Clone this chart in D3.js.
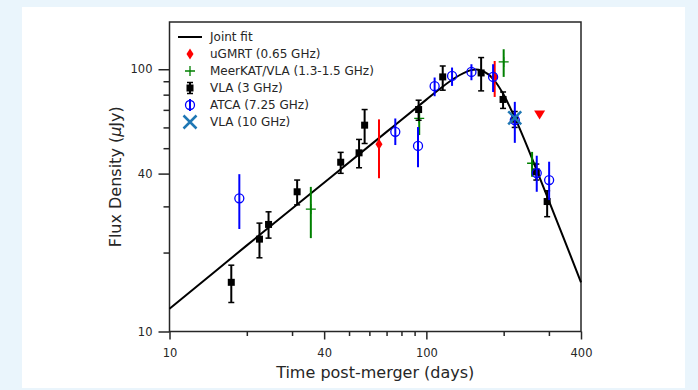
<!DOCTYPE html>
<html>
<head>
  <meta charset="utf-8">
  <title>Light curve</title>
  <style>
    body { margin: 0; background: #eaf5fc; }
    svg { display: block; font-family: "DejaVu Sans", sans-serif; }
  </style>
</head>
<body>
  <div id="plot"></div>

  <script src="https://cdn.jsdelivr.net/npm/d3@7"></script>
  <script>

    // joint fit curve
    let fitT = [10, 20, 42, 70, 100, 113, 130, 148, 160, 175, 186, 200, 222, 250, 270, 295, 340, 400];
    let fitF = [12.2, 21.3, 38.4, 57.7, 76.6, 84.3, 93.0, 99.0, 99.6, 95.4, 89.4, 79.9, 64.8, 49.3, 40.8, 32.8, 23.1, 15.4];

    // uGMRT 0.65 GHz
    let gmrtT = [65.4, 184.5];
    let gmrtF = [51.8, 93.5];
    let gmrtLo = [38.4, 78.4];
    let gmrtHi = [64.4, 107.5];
    // uGMRT upper limit
    let gmrtLimT = [276];
    let gmrtLimF = [67.2];

    // MeerKAT/VLA 1.3-1.5 GHz
    let meerT = [35.5, 93.8, 200, 258];
    let meerF = [29.3, 65.0, 106.6, 43.8];
    let meerLo = [22.7, 56.1, 93.5, 38.9];
    let meerHi = [35.6, 69.8, 119.2, 48.4];

    // VLA 3 GHz
    let vla3T = [17.4, 22.4, 24.3, 31.4, 46.4, 54.7, 57.5, 93.3, 115.8, 163.4, 198.9, 220.8, 268, 295.3];
    let vla3F = [15.4, 22.5, 25.6, 34.1, 44.2, 48.0, 61.2, 70.2, 93.5, 96.8, 76.7, 64.5, 40.6, 31.3];
    let vla3Lo = [12.9, 19.1, 22.7, 30.4, 40.1, 42.1, 52.1, 63.9, 83.2, 82.7, 70.9, 60.0, 37.8, 27.4];
    let vla3Hi = [17.9, 25.9, 28.6, 37.8, 48.2, 54.0, 70.2, 76.2, 102.9, 110.8, 81.9, 69.0, 43.5, 34.4];

    // ATCA 7.25 GHz
    let atcaT = [18.7, 75.7, 92.8, 107.7, 125.9, 149.8, 181.9, 221, 269, 300.6];
    let atcaF = [32.2, 57.7, 51.0, 86.2, 94.3, 97.7, 93.5, 64.0, 40.2, 37.8];
    let atcaLo = [24.6, 51.4, 42.3, 78.9, 86.4, 90.8, 81.9, 52.4, 34.1, 31.7];
    let atcaHi = [39.8, 64.9, 60.2, 93.0, 101.5, 104.5, 104.5, 75.1, 46.8, 44.4];

    // VLA 10 GHz
    let vla10T = [220.8];
    let vla10F = [65.3];

    // axis ticks
    let xMajor = [10, 40, 100, 400];
    let xMinor = [20, 30, 50, 60, 70, 80, 90, 200, 300];
    let yMajor = [10, 40, 100];
    let yMinor = [20, 30, 50, 60, 70, 80, 90];

    let legendLabels = ['Joint fit', 'uGMRT (0.65 GHz)', 'MeerKAT/VLA (1.3-1.5 GHz)', 'VLA (3 GHz)', 'ATCA (7.25 GHz)', 'VLA (10 GHz)'];

    // build row objects
    function rows(t, f, lo, hi) {
      return t.map((d, i) => ({t: d, f: f[i], lo: lo ? lo[i] : null, hi: hi ? hi[i] : null}));
    }
    let fit = rows(fitT, fitF);
    let gmrt = rows(gmrtT, gmrtF, gmrtLo, gmrtHi);
    let gmrtLim = rows(gmrtLimT, gmrtLimF);
    let meer = rows(meerT, meerF, meerLo, meerHi);
    let vla3 = rows(vla3T, vla3F, vla3Lo, vla3Hi);
    let atca = rows(atcaT, atcaF, atcaLo, atcaHi);
    let vla10 = rows(vla10T, vla10F);

    let svgWidth = 698;
    let svgHeight = 390;
    let plotLeft = 169.5, plotRight = 581, plotTop = 22, plotBottom = 331.5;

    let svg = d3.select('#plot')
      .append('svg')
        .attr('width', svgWidth)
        .attr('height', svgHeight);

    // page background + white card
    svg.append('rect')
      .attr('width', svgWidth).attr('height', svgHeight)
      .attr('fill', '#eaf5fc');
    svg.append('rect')
      .attr('x', 22).attr('y', 7)
      .attr('width', 663).attr('height', 381)
      .attr('fill', '#ffffff');

    let x = d3.scaleLog().domain([10, 400]).range([plotLeft, plotRight]);
    let y = d3.scaleLog().domain([10, 151.4]).range([plotBottom, plotTop]);

    let ink = '#262626';

    // axes: major and minor ticks
    function styleAxis(g) {
      g.select('.domain').remove();
      g.selectAll('line').attr('stroke', ink).attr('stroke-width', 1.5);
      g.selectAll('text').attr('fill', ink).style('font-size', '11.5px').style('font-family', '"DejaVu Sans", sans-serif');
    }

    svg.append('g')
      .attr('transform', 'translate(0,' + plotBottom + ')')
      .call(d3.axisBottom(x).tickValues(xMajor).tickSize(8).tickPadding(9).tickFormat(d3.format('d')))
      .call(styleAxis);
    svg.append('g')
      .attr('transform', 'translate(0,' + plotBottom + ')')
      .call(d3.axisBottom(x).tickValues(xMinor).tickSize(4.5).tickFormat(''))
      .call(styleAxis);
    svg.append('g')
      .attr('transform', 'translate(' + plotLeft + ',0)')
      .call(d3.axisLeft(y).tickValues(yMajor).tickSize(11).tickPadding(6).tickFormat(d3.format('d')))
      .call(styleAxis);
    svg.append('g')
      .attr('transform', 'translate(' + plotLeft + ',0)')
      .call(d3.axisLeft(y).tickValues(yMinor).tickSize(6).tickFormat(''))
      .call(styleAxis);

    // frame
    svg.append('rect')
      .attr('x', plotLeft).attr('y', plotTop)
      .attr('width', plotRight - plotLeft).attr('height', plotBottom - plotTop)
      .attr('fill', 'none')
      .attr('stroke', ink)
      .attr('stroke-width', 1.5);

    // axis titles
    svg.append('text')
      .attr('x', (plotLeft + plotRight) / 2)
      .attr('y', 378)
      .attr('text-anchor', 'middle')
      .attr('fill', ink)
      .style('font-size', '16px')
      .text('Time post-merger (days)');

    let yTitle = svg.append('text')
      .attr('transform', 'translate(121,' + (plotTop + plotBottom) / 2 + ') rotate(-90)')
      .attr('text-anchor', 'middle')
      .attr('fill', ink)
      .style('font-size', '16px');
    yTitle.append('tspan').text('Flux Density (');
    yTitle.append('tspan').style('font-style', 'italic').text('μ');
    yTitle.append('tspan').text('Jy)');

    let plot = svg.append('g');

    // joint fit line
    let line = d3.line()
      .x(d => x(d.t))
      .y(d => y(d.f))
      .curve(d3.curveCatmullRom.alpha(0.5));
    plot.append('path')
      .datum(fit)
      .attr('d', line)
      .attr('fill', 'none')
      .attr('stroke', '#000')
      .attr('stroke-width', 2);

    // marker shapes
    let diamond = 'M0,-5.5L3.5,0L0,5.5L-3.5,0Z';
    let plus = 'M-5,0H5M0,-5V5';
    let cross = 'M-6.5,-6.5L6.5,6.5M-6.5,6.5L6.5,-6.5';
    let triDown = 'M-5.5,-4L5.5,-4L0,5Z';

    function errBars(data, color, width) {
      plot.append('g').selectAll('line')
        .data(data)
        .enter()
        .append('line')
          .attr('x1', d => x(d.t)).attr('x2', d => x(d.t))
          .attr('y1', d => y(d.lo)).attr('y2', d => y(d.hi))
          .attr('stroke', color)
          .attr('stroke-width', width);
    }

    // uGMRT
    errBars(gmrt, '#ff0000', 2);
    plot.append('g').selectAll('path')
      .data(gmrt).enter()
      .append('path')
        .attr('d', diamond)
        .attr('transform', d => 'translate(' + x(d.t) + ',' + y(d.f) + ')')
        .attr('fill', '#ff0000');
    plot.append('g').selectAll('path')
      .data(gmrtLim).enter()
      .append('path')
        .attr('d', triDown)
        .attr('transform', d => 'translate(' + x(d.t) + ',' + y(d.f) + ')')
        .attr('fill', '#ff0000');

    // MeerKAT/VLA
    errBars(meer, '#008000', 2);
    plot.append('g').selectAll('path')
      .data(meer).enter()
      .append('path')
        .attr('d', plus)
        .attr('transform', d => 'translate(' + x(d.t) + ',' + y(d.f) + ')')
        .attr('stroke', '#008000')
        .attr('stroke-width', 1.3);

    // VLA 3 GHz with caps
    errBars(vla3, '#000', 2);
    ['lo', 'hi'].forEach(k => {
      plot.append('g').selectAll('line')
        .data(vla3).enter()
        .append('line')
          .attr('x1', d => x(d.t) - 3).attr('x2', d => x(d.t) + 3)
          .attr('y1', d => y(d[k])).attr('y2', d => y(d[k]))
          .attr('stroke', '#000')
          .attr('stroke-width', 1.5);
    });
    plot.append('g').selectAll('rect')
      .data(vla3).enter()
      .append('rect')
        .attr('x', d => x(d.t) - 3.5)
        .attr('y', d => y(d.f) - 3.5)
        .attr('width', 7).attr('height', 7)
        .attr('fill', '#000');

    // ATCA
    errBars(atca, '#0000ff', 2);
    plot.append('g').selectAll('circle')
      .data(atca).enter()
      .append('circle')
        .attr('cx', d => x(d.t))
        .attr('cy', d => y(d.f))
        .attr('r', 4.5)
        .attr('fill', 'none')
        .attr('stroke', '#0000ff')
        .attr('stroke-width', 1.3);

    // VLA 10 GHz
    plot.append('g').selectAll('path')
      .data(vla10).enter()
      .append('path')
        .attr('d', cross)
        .attr('transform', d => 'translate(' + x(d.t) + ',' + y(d.f) + ')')
        .attr('stroke', '#1f77b4')
        .attr('stroke-width', 2.5);

    // legend
    let legX = 190, legY = 37, legStep = 17;
    let legend = svg.append('g')
      .selectAll('g')
      .data(legendLabels)
      .enter()
      .append('g')
        .attr('transform', (d, i) => 'translate(' + legX + ',' + (legY + i * legStep) + ')');

    legend.append('text')
      .attr('x', 20)
      .attr('dy', '0.36em')
      .attr('fill', ink)
      .style('font-size', '12px')
      .text(d => d);

    legend.each(function (d, i) {
      let g = d3.select(this);
      if (i === 0) {
        g.append('line').attr('x1', -12).attr('x2', 12)
          .attr('stroke', '#000').attr('stroke-width', 2);
      } else if (i === 1) {
        g.append('path').attr('d', diamond).attr('fill', '#ff0000');
      } else if (i === 2) {
        g.append('path').attr('d', plus).attr('stroke', '#008000').attr('stroke-width', 1.3);
      } else if (i === 3) {
        g.append('line').attr('y1', -5.5).attr('y2', 5.5).attr('stroke', '#000').attr('stroke-width', 2);
        g.append('line').attr('x1', -3).attr('x2', 3).attr('y1', -5.5).attr('y2', -5.5).attr('stroke', '#000').attr('stroke-width', 1.5);
        g.append('line').attr('x1', -3).attr('x2', 3).attr('y1', 5.5).attr('y2', 5.5).attr('stroke', '#000').attr('stroke-width', 1.5);
        g.append('rect').attr('x', -3.5).attr('y', -3.5).attr('width', 7).attr('height', 7).attr('fill', '#000');
      } else if (i === 4) {
        g.append('line').attr('y1', -6).attr('y2', 6).attr('stroke', '#0000ff').attr('stroke-width', 2);
        g.append('circle').attr('r', 4.5).attr('fill', 'none').attr('stroke', '#0000ff').attr('stroke-width', 1.3);
      } else {
        g.append('path').attr('d', cross).attr('stroke', '#1f77b4').attr('stroke-width', 2.5);
      }
    });

  </script>
</body>
</html>
